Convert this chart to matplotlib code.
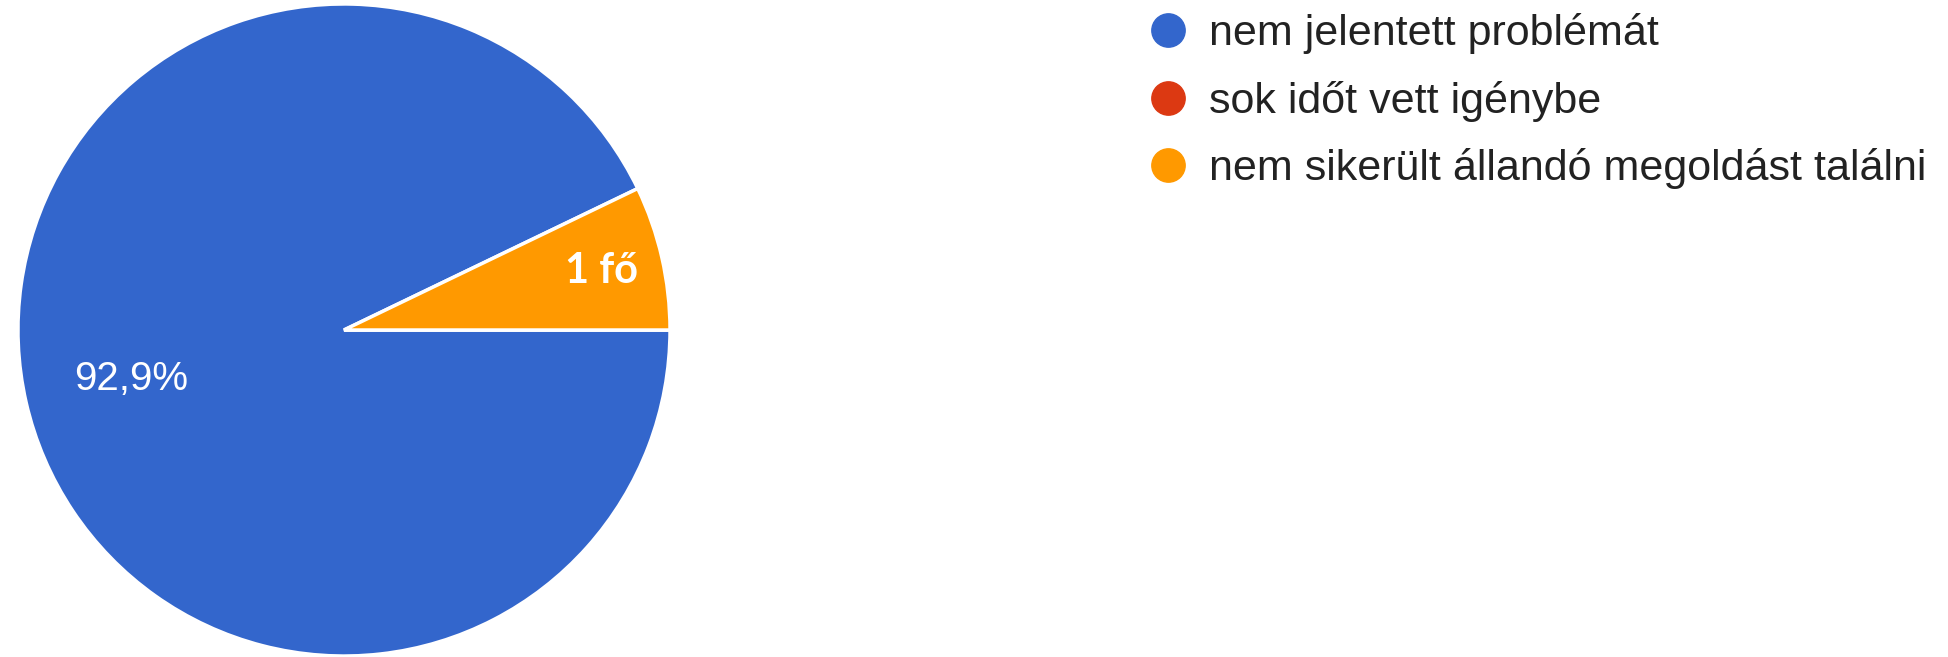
import numpy as np
import matplotlib.pyplot as plt
from matplotlib.lines import Line2D

# survey answers (14 respondents)
categories = ['nem jelentett problémát', 'sok időt vett igénybe', 'nem sikerült állandó megoldást találni']
counts = [13, 0, 1]
colors = ['#3366cc', '#dc3912', '#ff9900']

total = sum(counts)
start = 360 * counts[2] / total

fig = plt.figure(figsize=(19.49, 6.57), dpi=100)
ax = fig.add_axes([17 / 1949, 0 / 657, 654 / 1949, 654 / 657])
wedges, _ = ax.pie(counts, colors=colors, startangle=start, counterclock=True,
                   radius=1, wedgeprops=dict(edgecolor='white', linewidth=2.5))
ax.set_xlim(-1.003, 1.003)
ax.set_ylim(-1.003, 1.003)
ax.set_aspect('equal')
ax.axis('off')


def mid(w):
    return np.deg2rad((w.theta1 + w.theta2) / 2)


# percentage label on the big slice
a = mid(wedges[0])
ax.text(0.67 * np.cos(a), 0.67 * np.sin(a), f'{100 * counts[0] / total:.1f}%'.replace('.', ','),
        color='white', fontsize=29, family='Liberation Sans', ha='center', va='center')

# count label on the small slice
a = mid(wedges[2])
ax.text(0.81 * np.cos(a), 0.81 * np.sin(a), f'{counts[2]} fő',
        color='white', fontsize=30, family='Lato', fontweight='bold', ha='center', va='center')

handles = [Line2D([], [], marker='o', linestyle='', markersize=24, markerfacecolor=c,
                  markeredgecolor=c) for c in colors]
fig.legend(handles, categories, loc='upper left', bbox_to_anchor=(1142 / 1949, 1 - 13 / 657),
           frameon=False, prop={'family': 'Liberation Sans', 'size': 31},
           labelcolor='#222222', handletextpad=0.35, labelspacing=0.62, borderaxespad=0,
           borderpad=0, handlelength=1.2)

fig.savefig('out.png', dpi=100)
